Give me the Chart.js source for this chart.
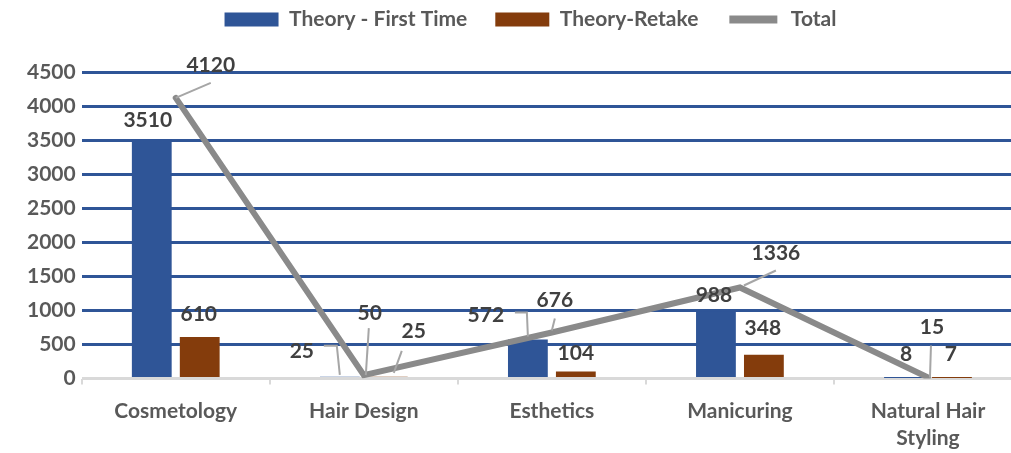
<!DOCTYPE html>
<html>
<head>
<meta charset="utf-8">
<script src="https://cdn.jsdelivr.net/npm/chart.js@4/dist/chart.umd.min.js"></script>
<style>
  html, body { margin: 0; padding: 0; background: #fff; overflow: hidden; }
  #wrap { width: 1011px; height: 453px; overflow: hidden; }
</style>
</head>
<body>
<div id="wrap"><canvas id="c" width="1025" height="465"></canvas></div>
<script>
const categories = ['Cosmetology', 'Hair Design', 'Esthetics', 'Manicuring', ['Natural Hair', 'Styling']];
const firstTime = [3510, 25, 572, 988, 8];
const retake = [610, 25, 104, 348, 7];
const total = [4120, 50, 676, 1336, 15];
const yTicks = [0, 500, 1000, 1500, 2000, 2500, 3000, 3500, 4000, 4500];

// label placement (styling only): offsets from each mark, optional leader lines
const labelLayout = [
  [ {dx:-4, dy:-19}, {dx:-38, dy:-26, lead:[[-16,-31],[-3,-31],[0,-2]]}, {dx:-42, dy:-24, lead:[[-13,-27],[-1,-27],[0,-3]]}, {dx:-2, dy:-16}, {dx:2, dy:-24} ],
  [ {dx:-1, dy:-23}, {dx:26, dy:-46, lead:[[14,-26],[6,-4]]}, {dx:0, dy:-18}, {dx:-1, dy:-27}, {dx:-1, dy:-24} ],
  [ {dx:35, dy:-33, lead:[[0,0],[35,-15]]}, {dx:6, dy:-62, lead:[[5,-47],[2,0]]}, {dx:3, dy:-32, lead:[[3,-14],[0,-2]]}, {dx:36, dy:-34, lead:[[4,-2],[36,-17]]}, {dx:4, dy:-50, lead:[[3,-32],[2,0]]} ]
];

const FONT = 'Lato, "Open Sans", sans-serif';

const labelsPlugin = {
  id: 'valueLabels',
  afterDatasetsDraw(chart) {
    const ctx = chart.ctx;
    ctx.save();
    chart.data.datasets.forEach((ds, di) => {
      const meta = chart.getDatasetMeta(di);
      meta.data.forEach((el, i) => {
        const L = labelLayout[di][i];
        if (L.lead) {
          ctx.strokeStyle = '#a6a6a6';
          ctx.lineWidth = 2;
          ctx.beginPath();
          L.lead.forEach((p, k) => {
            if (k === 0) ctx.moveTo(el.x + p[0], el.y + p[1]);
            else ctx.lineTo(el.x + p[0], el.y + p[1]);
          });
          ctx.stroke();
        }
        ctx.fillStyle = '#404040';
        ctx.font = 'bold 21px ' + FONT;
        ctx.textAlign = 'center';
        ctx.textBaseline = 'middle';
        ctx.fillText(String(ds.data[i]), el.x + L.dx, el.y + L.dy);
      });
    });
    ctx.restore();
  }
};

const legendHack = {
  id: 'legendHack',
  beforeInit(chart) {
    const lg = chart.legend;
    if (lg && !lg._patched) {
      const orig = lg.fit;
      lg.fit = function () { orig.call(this); this.height = 72; };
      lg._patched = true;
    }
  },
  afterLayout(chart) {
    const lg = chart.legend;
    if (lg) {
      lg.top -= 19; lg.bottom -= 19;
      lg.left += 9; lg.right += 9;
    }
  }
};

new Chart(document.getElementById('c'), {
  type: 'bar',
  data: {
    labels: categories,
    datasets: [
      { label: 'Theory - First Time', data: firstTime, backgroundColor: '#2F5597', order: 1,
        categoryPercentage: 0.51, barPercentage: 0.83 },
      { label: 'Theory-Retake', data: retake, backgroundColor: '#843C0C', order: 1,
        categoryPercentage: 0.51, barPercentage: 0.83 },
      { label: 'Total', data: total, type: 'line', borderColor: '#8a8a8a', borderWidth: 6,
        backgroundColor: '#8a8a8a', pointRadius: 0, tension: 0, order: 0, borderCapStyle: 'round' }
    ]
  },
  options: {
    responsive: false,
    animation: false,
    layout: { padding: { left: 21, right: 3, top: 0, bottom: 0 } },
    plugins: {
      tooltip: { enabled: false },
      legend: {
        position: 'top',
        labels: {
          font: { family: FONT, size: 21, weight: 'bold' },
          color: '#595959',
          boxWidth: 54,
          boxHeight: 14,
          padding: 28,
          sort: (a, b) => a.datasetIndex - b.datasetIndex,
          generateLabels(chart) {
            return chart.data.datasets.map((ds, i) => {
              const isLine = ds.type === 'line';
              return {
                text: ds.label,
                datasetIndex: i,
                fillStyle: isLine ? '#8a8a8a' : ds.backgroundColor,
                strokeStyle: '#ffffff',
                lineWidth: isLine ? 6 : 0,
                fontColor: '#595959',
                hidden: false
              };
            });
          }
        }
      }
    },
    scales: {
      x: {
        grid: { drawOnChartArea: false, drawTicks: true, tickLength: 6, color: '#d9d9d9', lineWidth: 2 },
        border: { display: false },
        ticks: {
          font: { family: FONT, size: 21, weight: 'bold', lineHeight: 1.25 },
          color: '#595959',
          padding: 14,
          maxRotation: 0,
          autoSkip: false
        }
      },
      y: {
        min: 0,
        max: 4500,
        afterBuildTicks(scale) { scale.ticks = yTicks.map(v => ({ value: v })); },
        grid: {
          drawTicks: false,
          color: (c) => (c.tick && c.tick.value === 0 ? '#d9d9d9' : '#2F5597'),
          lineWidth: 3
        },
        border: { display: false },
        ticks: {
          font: { family: FONT, size: 21, weight: 'bold' },
          color: '#595959',
          padding: 6,
          callback: (v) => String(v)
        }
      }
    }
  },
  plugins: [labelsPlugin, legendHack]
});
</script>
</body>
</html>
